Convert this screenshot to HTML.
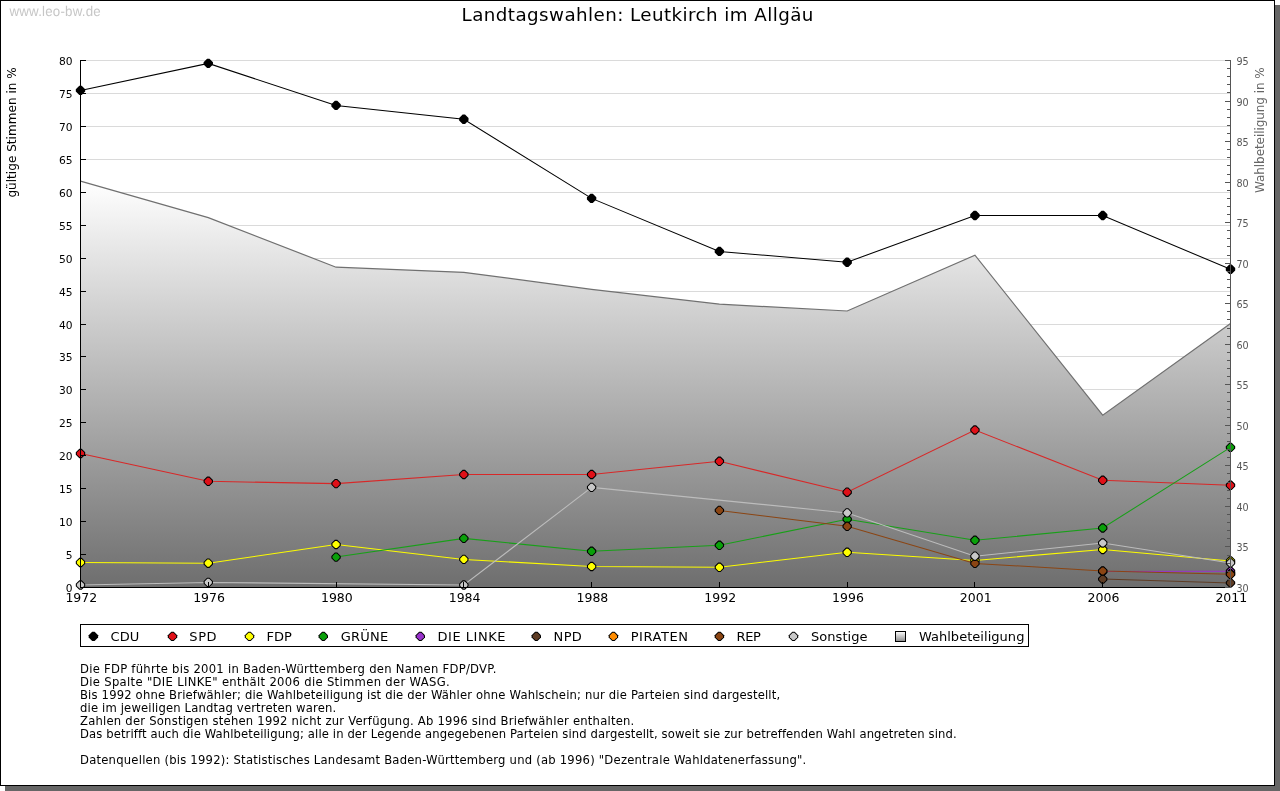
<!DOCTYPE html>
<html lang="de"><head><meta charset="utf-8"><title>Landtagswahlen: Leutkirch im Allgäu</title>
<style>html,body{margin:0;padding:0;background:#fff}svg{display:block}text{font-family:"DejaVu Sans","Liberation Sans",sans-serif;fill:#000}.wm{font-family:"Liberation Sans",sans-serif}</style></head><body>
<svg width="1280" height="791" viewBox="0 0 1280 791">
<defs><linearGradient id="ag" gradientUnits="userSpaceOnUse" x1="0" y1="181" x2="0" y2="587"><stop offset="0" stop-color="#ffffff"/><stop offset="1" stop-color="#6e6e6e"/></linearGradient>
<linearGradient id="lg" x1="0" y1="0" x2="0" y2="1"><stop offset="0" stop-color="#ffffff"/><stop offset="1" stop-color="#8a8a8a"/></linearGradient></defs>
<rect x="0" y="0" width="1280" height="791" fill="#fff"/>
<rect x="5" y="5" width="1275" height="786" fill="#666"/>
<rect x="0.5" y="0.5" width="1274" height="785" fill="#fff" stroke="#000" stroke-width="1"/>
<text class="wm" x="9.4" y="15.05" font-size="13.33" letter-spacing="0.2" transform="scale(1 1.05)" text-rendering="geometricPrecision" style="fill:#c6c6c6">www.leo-bw.de</text>
<text x="461.6" y="20.6" font-size="18.3" letter-spacing="0.421">Landtagswahlen: Leutkirch im Allgäu</text>
<path d="M86 587.5H1230M86 554.5H1230M86 521.5H1230M86 488.5H1230M86 455.5H1230M86 422.5H1230M86 389.5H1230M86 356.5H1230M86 324.5H1230M86 291.5H1230M86 258.5H1230M86 225.5H1230M86 192.5H1230M86 159.5H1230M86 126.5H1230M86 93.5H1230M86 60.5H1230" stroke="#dadada" stroke-width="1" fill="none"/>
<polygon points="80.5,587.5 80.5,181.2 208.28,217.6 336.06,267.2 463.83,272.3 591.61,289.4 719.39,304.2 847.17,311 974.94,255.2 1102.72,415.2 1230.5,323.4 1230.5,587.5" fill="url(#ag)"/>
<polyline points="80.5,181.2 208.28,217.6 336.06,267.2 463.83,272.3 591.61,289.4 719.39,304.2 847.17,311 974.94,255.2 1102.72,415.2 1230.5,323.4" fill="none" stroke="#707070" stroke-width="1.2"/>
<polyline points="80.5,90.4 208.28,63.4 336.06,105.4 463.83,119.3 591.61,198.4 719.39,251.4 847.17,262.2 974.94,215.5 1102.72,215.5 1230.5,269.3" fill="none" stroke="#000000" stroke-width="1.05"/>
<path d="M75.8 89.2L79.3 85.7H81.7L85.2 89.2V91.6L81.7 95.1H79.3L75.8 91.6ZM203.58 62.2L207.08 58.7H209.48L212.98 62.2V64.6L209.48 68.1H207.08L203.58 64.6ZM331.36 104.2L334.86 100.7H337.26L340.76 104.2V106.6L337.26 110.1H334.86L331.36 106.6ZM459.13 118.1L462.63 114.6H465.03L468.53 118.1V120.5L465.03 124H462.63L459.13 120.5ZM586.91 197.2L590.41 193.7H592.81L596.31 197.2V199.6L592.81 203.1H590.41L586.91 199.6ZM714.69 250.2L718.19 246.7H720.59L724.09 250.2V252.6L720.59 256.1H718.19L714.69 252.6ZM842.47 261L845.97 257.5H848.37L851.87 261V263.4L848.37 266.9H845.97L842.47 263.4ZM970.24 214.3L973.74 210.8H976.14L979.64 214.3V216.7L976.14 220.2H973.74L970.24 216.7ZM1098.02 214.3L1101.52 210.8H1103.92L1107.42 214.3V216.7L1103.92 220.2H1101.52L1098.02 216.7ZM1225.8 268.1L1229.3 264.6H1231.7L1235.2 268.1V270.5L1231.7 274H1229.3L1225.8 270.5Z" fill="#000"/>
<polyline points="80.5,453.5 208.28,481.3 336.06,483.6 463.83,474.5 591.61,474.5 719.39,461.3 847.17,492.2 974.94,430 1102.72,480.3 1230.5,485.3" fill="none" stroke="#d82828" stroke-width="1.05"/>
<path d="M75.8 452.3L79.3 448.8H81.7L85.2 452.3V454.7L81.7 458.2H79.3L75.8 454.7ZM203.58 480.1L207.08 476.6H209.48L212.98 480.1V482.5L209.48 486H207.08L203.58 482.5ZM331.36 482.4L334.86 478.9H337.26L340.76 482.4V484.8L337.26 488.3H334.86L331.36 484.8ZM459.13 473.3L462.63 469.8H465.03L468.53 473.3V475.7L465.03 479.2H462.63L459.13 475.7ZM586.91 473.3L590.41 469.8H592.81L596.31 473.3V475.7L592.81 479.2H590.41L586.91 475.7ZM714.69 460.1L718.19 456.6H720.59L724.09 460.1V462.5L720.59 466H718.19L714.69 462.5ZM842.47 491L845.97 487.5H848.37L851.87 491V493.4L848.37 496.9H845.97L842.47 493.4ZM970.24 428.8L973.74 425.3H976.14L979.64 428.8V431.2L976.14 434.7H973.74L970.24 431.2ZM1098.02 479.1L1101.52 475.6H1103.92L1107.42 479.1V481.5L1103.92 485H1101.52L1098.02 481.5ZM1225.8 484.1L1229.3 480.6H1231.7L1235.2 484.1V486.5L1231.7 490H1229.3L1225.8 486.5Z" fill="#000"/><path d="M76.9 452.6L79.6 449.9H81.4L84.1 452.6V454.4L81.4 457.1H79.6L76.9 454.4ZM204.68 480.4L207.38 477.7H209.18L211.88 480.4V482.2L209.18 484.9H207.38L204.68 482.2ZM332.46 482.7L335.16 480H336.96L339.66 482.7V484.5L336.96 487.2H335.16L332.46 484.5ZM460.23 473.6L462.93 470.9H464.73L467.43 473.6V475.4L464.73 478.1H462.93L460.23 475.4ZM588.01 473.6L590.71 470.9H592.51L595.21 473.6V475.4L592.51 478.1H590.71L588.01 475.4ZM715.79 460.4L718.49 457.7H720.29L722.99 460.4V462.2L720.29 464.9H718.49L715.79 462.2ZM843.57 491.3L846.27 488.6H848.07L850.77 491.3V493.1L848.07 495.8H846.27L843.57 493.1ZM971.34 429.1L974.04 426.4H975.84L978.54 429.1V430.9L975.84 433.6H974.04L971.34 430.9ZM1099.12 479.4L1101.82 476.7H1103.62L1106.32 479.4V481.2L1103.62 483.9H1101.82L1099.12 481.2ZM1226.9 484.4L1229.6 481.7H1231.4L1234.1 484.4V486.2L1231.4 488.9H1229.6L1226.9 486.2Z" fill="#e01018"/>
<polyline points="80.5,562.5 208.28,563.2 336.06,544.5 463.83,559.4 591.61,566.5 719.39,567.3 847.17,552.3 974.94,560.4 1102.72,549.5 1230.5,561" fill="none" stroke="#fcfc00" stroke-width="1.05"/>
<path d="M75.8 561.3L79.3 557.8H81.7L85.2 561.3V563.7L81.7 567.2H79.3L75.8 563.7ZM203.58 562L207.08 558.5H209.48L212.98 562V564.4L209.48 567.9H207.08L203.58 564.4ZM331.36 543.3L334.86 539.8H337.26L340.76 543.3V545.7L337.26 549.2H334.86L331.36 545.7ZM459.13 558.2L462.63 554.7H465.03L468.53 558.2V560.6L465.03 564.1H462.63L459.13 560.6ZM586.91 565.3L590.41 561.8H592.81L596.31 565.3V567.7L592.81 571.2H590.41L586.91 567.7ZM714.69 566.1L718.19 562.6H720.59L724.09 566.1V568.5L720.59 572H718.19L714.69 568.5ZM842.47 551.1L845.97 547.6H848.37L851.87 551.1V553.5L848.37 557H845.97L842.47 553.5ZM970.24 559.2L973.74 555.7H976.14L979.64 559.2V561.6L976.14 565.1H973.74L970.24 561.6ZM1098.02 548.3L1101.52 544.8H1103.92L1107.42 548.3V550.7L1103.92 554.2H1101.52L1098.02 550.7ZM1225.8 559.8L1229.3 556.3H1231.7L1235.2 559.8V562.2L1231.7 565.7H1229.3L1225.8 562.2Z" fill="#000"/><path d="M76.9 561.6L79.6 558.9H81.4L84.1 561.6V563.4L81.4 566.1H79.6L76.9 563.4ZM204.68 562.3L207.38 559.6H209.18L211.88 562.3V564.1L209.18 566.8H207.38L204.68 564.1ZM332.46 543.6L335.16 540.9H336.96L339.66 543.6V545.4L336.96 548.1H335.16L332.46 545.4ZM460.23 558.5L462.93 555.8H464.73L467.43 558.5V560.3L464.73 563H462.93L460.23 560.3ZM588.01 565.6L590.71 562.9H592.51L595.21 565.6V567.4L592.51 570.1H590.71L588.01 567.4ZM715.79 566.4L718.49 563.7H720.29L722.99 566.4V568.2L720.29 570.9H718.49L715.79 568.2ZM843.57 551.4L846.27 548.7H848.07L850.77 551.4V553.2L848.07 555.9H846.27L843.57 553.2ZM971.34 559.5L974.04 556.8H975.84L978.54 559.5V561.3L975.84 564H974.04L971.34 561.3ZM1099.12 548.6L1101.82 545.9H1103.62L1106.32 548.6V550.4L1103.62 553.1H1101.82L1099.12 550.4ZM1226.9 560.1L1229.6 557.4H1231.4L1234.1 560.1V561.9L1231.4 564.6H1229.6L1226.9 561.9Z" fill="#ffff00"/>
<polyline points="336.06,557.1 463.83,538.4 591.61,551.3 719.39,545.3 847.17,519.2 974.94,540.3 1102.72,528 1230.5,447.4" fill="none" stroke="#18a018" stroke-width="1.05"/>
<path d="M331.36 555.9L334.86 552.4H337.26L340.76 555.9V558.3L337.26 561.8H334.86L331.36 558.3ZM459.13 537.2L462.63 533.7H465.03L468.53 537.2V539.6L465.03 543.1H462.63L459.13 539.6ZM586.91 550.1L590.41 546.6H592.81L596.31 550.1V552.5L592.81 556H590.41L586.91 552.5ZM714.69 544.1L718.19 540.6H720.59L724.09 544.1V546.5L720.59 550H718.19L714.69 546.5ZM842.47 518L845.97 514.5H848.37L851.87 518V520.4L848.37 523.9H845.97L842.47 520.4ZM970.24 539.1L973.74 535.6H976.14L979.64 539.1V541.5L976.14 545H973.74L970.24 541.5ZM1098.02 526.8L1101.52 523.3H1103.92L1107.42 526.8V529.2L1103.92 532.7H1101.52L1098.02 529.2ZM1225.8 446.2L1229.3 442.7H1231.7L1235.2 446.2V448.6L1231.7 452.1H1229.3L1225.8 448.6Z" fill="#000"/><path d="M332.46 556.2L335.16 553.5H336.96L339.66 556.2V558L336.96 560.7H335.16L332.46 558ZM460.23 537.5L462.93 534.8H464.73L467.43 537.5V539.3L464.73 542H462.93L460.23 539.3ZM588.01 550.4L590.71 547.7H592.51L595.21 550.4V552.2L592.51 554.9H590.71L588.01 552.2ZM715.79 544.4L718.49 541.7H720.29L722.99 544.4V546.2L720.29 548.9H718.49L715.79 546.2ZM843.57 518.3L846.27 515.6H848.07L850.77 518.3V520.1L848.07 522.8H846.27L843.57 520.1ZM971.34 539.4L974.04 536.7H975.84L978.54 539.4V541.2L975.84 543.9H974.04L971.34 541.2ZM1099.12 527.1L1101.82 524.4H1103.62L1106.32 527.1V528.9L1103.62 531.6H1101.82L1099.12 528.9ZM1226.9 446.5L1229.6 443.8H1231.4L1234.1 446.5V448.3L1231.4 451H1229.6L1226.9 448.3Z" fill="#0aa00a"/>
<polyline points="1102.72,571.5 1230.5,571.3" fill="none" stroke="#9932cc" stroke-width="1.05"/>
<path d="M1098.02 570.3L1101.52 566.8H1103.92L1107.42 570.3V572.7L1103.92 576.2H1101.52L1098.02 572.7ZM1225.8 570.1L1229.3 566.6H1231.7L1235.2 570.1V572.5L1231.7 576H1229.3L1225.8 572.5Z" fill="#000"/><path d="M1099.12 570.6L1101.82 567.9H1103.62L1106.32 570.6V572.4L1103.62 575.1H1101.82L1099.12 572.4ZM1226.9 570.4L1229.6 567.7H1231.4L1234.1 570.4V572.2L1231.4 574.9H1229.6L1226.9 572.2Z" fill="#9932cc"/>
<polyline points="1102.72,579.1 1230.5,582.9" fill="none" stroke="#5e3c24" stroke-width="1.05"/>
<path d="M1098.02 577.9L1101.52 574.4H1103.92L1107.42 577.9V580.3L1103.92 583.8H1101.52L1098.02 580.3ZM1225.8 581.7L1229.3 578.2H1231.7L1235.2 581.7V584.1L1231.7 587.6H1229.3L1225.8 584.1Z" fill="#000"/><path d="M1099.12 578.2L1101.82 575.5H1103.62L1106.32 578.2V580L1103.62 582.7H1101.82L1099.12 580ZM1226.9 582L1229.6 579.3H1231.4L1234.1 582V583.8L1231.4 586.5H1229.6L1226.9 583.8Z" fill="#5e3c24"/>
<path d="M1225.8 572.5L1229.3 569H1231.7L1235.2 572.5V574.9L1231.7 578.4H1229.3L1225.8 574.9Z" fill="#000"/><path d="M1226.9 572.8L1229.6 570.1H1231.4L1234.1 572.8V574.6L1231.4 577.3H1229.6L1226.9 574.6Z" fill="#ff8c00"/>
<polyline points="719.39,510.4 847.17,526.3 974.94,563.4 1102.72,571 1230.5,574.3" fill="none" stroke="#8b4513" stroke-width="1.05"/>
<path d="M714.69 509.2L718.19 505.7H720.59L724.09 509.2V511.6L720.59 515.1H718.19L714.69 511.6ZM842.47 525.1L845.97 521.6H848.37L851.87 525.1V527.5L848.37 531H845.97L842.47 527.5ZM970.24 562.2L973.74 558.7H976.14L979.64 562.2V564.6L976.14 568.1H973.74L970.24 564.6ZM1098.02 569.8L1101.52 566.3H1103.92L1107.42 569.8V572.2L1103.92 575.7H1101.52L1098.02 572.2ZM1225.8 573.1L1229.3 569.6H1231.7L1235.2 573.1V575.5L1231.7 579H1229.3L1225.8 575.5Z" fill="#000"/><path d="M715.79 509.5L718.49 506.8H720.29L722.99 509.5V511.3L720.29 514H718.49L715.79 511.3ZM843.57 525.4L846.27 522.7H848.07L850.77 525.4V527.2L848.07 529.9H846.27L843.57 527.2ZM971.34 562.5L974.04 559.8H975.84L978.54 562.5V564.3L975.84 567H974.04L971.34 564.3ZM1099.12 570.1L1101.82 567.4H1103.62L1106.32 570.1V571.9L1103.62 574.6H1101.82L1099.12 571.9ZM1226.9 573.4L1229.6 570.7H1231.4L1234.1 573.4V575.2L1231.4 577.9H1229.6L1226.9 575.2Z" fill="#8b4513"/>
<polyline points="80.5,585 208.28,582.4 463.83,585 591.61,487.4 847.17,512.9 974.94,556.2 1102.72,543 1230.5,562.9" fill="none" stroke="#bcbcbc" stroke-width="1.05"/>
<path d="M75.8 583.8L79.3 580.3H81.7L85.2 583.8V586.2L81.7 589.7H79.3L75.8 586.2ZM203.58 581.2L207.08 577.7H209.48L212.98 581.2V583.6L209.48 587.1H207.08L203.58 583.6ZM459.13 583.8L462.63 580.3H465.03L468.53 583.8V586.2L465.03 589.7H462.63L459.13 586.2ZM586.91 486.2L590.41 482.7H592.81L596.31 486.2V488.6L592.81 492.1H590.41L586.91 488.6ZM842.47 511.7L845.97 508.2H848.37L851.87 511.7V514.1L848.37 517.6H845.97L842.47 514.1ZM970.24 555L973.74 551.5H976.14L979.64 555V557.4L976.14 560.9H973.74L970.24 557.4ZM1098.02 541.8L1101.52 538.3H1103.92L1107.42 541.8V544.2L1103.92 547.7H1101.52L1098.02 544.2ZM1225.8 561.7L1229.3 558.2H1231.7L1235.2 561.7V564.1L1231.7 567.6H1229.3L1225.8 564.1Z" fill="#000"/><path d="M76.9 584.1L79.6 581.4H81.4L84.1 584.1V585.9L81.4 588.6H79.6L76.9 585.9ZM204.68 581.5L207.38 578.8H209.18L211.88 581.5V583.3L209.18 586H207.38L204.68 583.3ZM460.23 584.1L462.93 581.4H464.73L467.43 584.1V585.9L464.73 588.6H462.93L460.23 585.9ZM588.01 486.5L590.71 483.8H592.51L595.21 486.5V488.3L592.51 491H590.71L588.01 488.3ZM843.57 512L846.27 509.3H848.07L850.77 512V513.8L848.07 516.5H846.27L843.57 513.8ZM971.34 555.3L974.04 552.6H975.84L978.54 555.3V557.1L975.84 559.8H974.04L971.34 557.1ZM1099.12 542.1L1101.82 539.4H1103.62L1106.32 542.1V543.9L1103.62 546.6H1101.82L1099.12 543.9ZM1226.9 562L1229.6 559.3H1231.4L1234.1 562V563.8L1231.4 566.5H1229.6L1226.9 563.8Z" fill="#c8c8c8"/>
<path d="M80.5 60V588M80 587.5H1231M80 587.5H86M80 554.5H86M80 521.5H86M80 488.5H86M80 455.5H86M80 422.5H86M80 389.5H86M80 356.5H86M80 324.5H86M80 291.5H86M80 258.5H86M80 225.5H86M80 192.5H86M80 159.5H86M80 126.5H86M80 93.5H86M80 60.5H86M208.5 582V587M336.5 582V587M463.5 582V587M591.5 582V587M719.5 582V587M847.5 582V587M974.5 582V587M1102.5 582V587" stroke="#000" stroke-width="1" fill="none"/>
<path d="M1230.5 60V588M1225 587.5H1231M1227 579.5H1231M1227 571.5H1231M1227 563.5H1231M1227 555.5H1231M1225 546.5H1231M1227 538.5H1231M1227 530.5H1231M1227 522.5H1231M1227 514.5H1231M1225 506.5H1231M1227 498.5H1231M1227 490.5H1231M1227 482.5H1231M1227 473.5H1231M1225 465.5H1231M1227 457.5H1231M1227 449.5H1231M1227 441.5H1231M1227 433.5H1231M1225 425.5H1231M1227 417.5H1231M1227 409.5H1231M1227 401.5H1231M1227 392.5H1231M1225 384.5H1231M1227 376.5H1231M1227 368.5H1231M1227 360.5H1231M1227 352.5H1231M1225 344.5H1231M1227 336.5H1231M1227 328.5H1231M1227 319.5H1231M1227 311.5H1231M1225 303.5H1231M1227 295.5H1231M1227 287.5H1231M1227 279.5H1231M1227 271.5H1231M1225 263.5H1231M1227 255.5H1231M1227 246.5H1231M1227 238.5H1231M1227 230.5H1231M1225 222.5H1231M1227 214.5H1231M1227 206.5H1231M1227 198.5H1231M1227 190.5H1231M1225 182.5H1231M1227 174.5H1231M1227 165.5H1231M1227 157.5H1231M1227 149.5H1231M1225 141.5H1231M1227 133.5H1231M1227 125.5H1231M1227 117.5H1231M1227 109.5H1231M1225 101.5H1231M1227 92.5H1231M1227 84.5H1231M1227 76.5H1231M1227 68.5H1231M1225 60.5H1231" stroke="#555" stroke-width="1" fill="none"/>
<text x="72.5" y="592.4" font-size="10.67" text-anchor="end">0</text>
<text x="72.5" y="559.4" font-size="10.67" text-anchor="end">5</text>
<text x="72.5" y="526.4" font-size="10.67" text-anchor="end">10</text>
<text x="72.5" y="493.4" font-size="10.67" text-anchor="end">15</text>
<text x="72.5" y="460.4" font-size="10.67" text-anchor="end">20</text>
<text x="72.5" y="427.4" font-size="10.67" text-anchor="end">25</text>
<text x="72.5" y="394.4" font-size="10.67" text-anchor="end">30</text>
<text x="72.5" y="361.4" font-size="10.67" text-anchor="end">35</text>
<text x="72.5" y="329.4" font-size="10.67" text-anchor="end">40</text>
<text x="72.5" y="296.4" font-size="10.67" text-anchor="end">45</text>
<text x="72.5" y="263.4" font-size="10.67" text-anchor="end">50</text>
<text x="72.5" y="230.4" font-size="10.67" text-anchor="end">55</text>
<text x="72.5" y="197.4" font-size="10.67" text-anchor="end">60</text>
<text x="72.5" y="164.4" font-size="10.67" text-anchor="end">65</text>
<text x="72.5" y="131.4" font-size="10.67" text-anchor="end">70</text>
<text x="72.5" y="98.4" font-size="10.67" text-anchor="end">75</text>
<text x="72.5" y="65.4" font-size="10.67" text-anchor="end">80</text>
<text x="1236.5" y="592" font-size="9.6" style="fill:#555">30</text>
<text x="1236.5" y="551" font-size="9.6" style="fill:#555">35</text>
<text x="1236.5" y="511" font-size="9.6" style="fill:#555">40</text>
<text x="1236.5" y="470" font-size="9.6" style="fill:#555">45</text>
<text x="1236.5" y="430" font-size="9.6" style="fill:#555">50</text>
<text x="1236.5" y="389" font-size="9.6" style="fill:#555">55</text>
<text x="1236.5" y="349" font-size="9.6" style="fill:#555">60</text>
<text x="1236.5" y="308" font-size="9.6" style="fill:#555">65</text>
<text x="1236.5" y="268" font-size="9.6" style="fill:#555">70</text>
<text x="1236.5" y="227" font-size="9.6" style="fill:#555">75</text>
<text x="1236.5" y="187" font-size="9.6" style="fill:#555">80</text>
<text x="1236.5" y="146" font-size="9.6" style="fill:#555">85</text>
<text x="1236.5" y="106" font-size="9.6" style="fill:#555">90</text>
<text x="1236.5" y="65" font-size="9.6" style="fill:#555">95</text>
<text x="81.3" y="602" font-size="12.5" text-anchor="middle">1972</text>
<text x="209.08" y="602" font-size="12.5" text-anchor="middle">1976</text>
<text x="336.86" y="602" font-size="12.5" text-anchor="middle">1980</text>
<text x="464.63" y="602" font-size="12.5" text-anchor="middle">1984</text>
<text x="592.41" y="602" font-size="12.5" text-anchor="middle">1988</text>
<text x="720.19" y="602" font-size="12.5" text-anchor="middle">1992</text>
<text x="847.97" y="602" font-size="12.5" text-anchor="middle">1996</text>
<text x="975.74" y="602" font-size="12.5" text-anchor="middle">2001</text>
<text x="1103.52" y="602" font-size="12.5" text-anchor="middle">2006</text>
<text x="1231.3" y="602" font-size="12.5" text-anchor="middle">2011</text>
<text x="-1.0" y="0" font-size="12" letter-spacing="0.047" transform="translate(15.8 196.6) rotate(-90)">gültige Stimmen in %</text>
<text x="0.0" y="0" font-size="12" letter-spacing="-0.068" transform="translate(1263.7 193) rotate(-90)" style="fill:#666">Wahlbeteiligung in %</text>
<rect x="80.5" y="624.5" width="948" height="22" fill="#fff" stroke="#000" stroke-width="1"/>
<path d="M88.7 635.2L92.2 631.7H94.6L98.1 635.2V637.6L94.6 641.1H92.2L88.7 637.6Z" fill="#000"/>
<text x="110.4" y="641" font-size="13" letter-spacing="0.175">CDU</text>
<path d="M167.8 635.2L171.3 631.7H173.7L177.2 635.2V637.6L173.7 641.1H171.3L167.8 637.6Z" fill="#000"/><path d="M168.9 635.5L171.6 632.8H173.4L176.1 635.5V637.3L173.4 640H171.6L168.9 637.3Z" fill="#e01018"/>
<text x="189.3" y="641" font-size="13" letter-spacing="0.6">SPD</text>
<path d="M244.8 635.2L248.3 631.7H250.7L254.2 635.2V637.6L250.7 641.1H248.3L244.8 637.6Z" fill="#000"/><path d="M245.9 635.5L248.6 632.8H250.4L253.1 635.5V637.3L250.4 640H248.6L245.9 637.3Z" fill="#ffff00"/>
<text x="266.5" y="641" font-size="13" letter-spacing="-0.05">FDP</text>
<path d="M318.6 635.2L322.1 631.7H324.5L328 635.2V637.6L324.5 641.1H322.1L318.6 637.6Z" fill="#000"/><path d="M319.7 635.5L322.4 632.8H324.2L326.9 635.5V637.3L324.2 640H322.4L319.7 637.3Z" fill="#0aa00a"/>
<text x="340.8" y="641" font-size="13" letter-spacing="0.225">GRÜNE</text>
<path d="M415.6 635.2L419.1 631.7H421.5L425 635.2V637.6L421.5 641.1H419.1L415.6 637.6Z" fill="#000"/><path d="M416.7 635.5L419.4 632.8H421.2L423.9 635.5V637.3L421.2 640H419.4L416.7 637.3Z" fill="#9932cc"/>
<text x="437.6" y="641" font-size="13" letter-spacing="0.512">DIE LINKE</text>
<path d="M531.6 635.2L535.1 631.7H537.5L541 635.2V637.6L537.5 641.1H535.1L531.6 637.6Z" fill="#000"/><path d="M532.7 635.5L535.4 632.8H537.2L539.9 635.5V637.3L537.2 640H535.4L532.7 637.3Z" fill="#5e3c24"/>
<text x="553.6" y="641" font-size="13" letter-spacing="0.35">NPD</text>
<path d="M608.7 635.2L612.2 631.7H614.6L618.1 635.2V637.6L614.6 641.1H612.2L608.7 637.6Z" fill="#000"/><path d="M609.8 635.5L612.5 632.8H614.3L617 635.5V637.3L614.3 640H612.5L609.8 637.3Z" fill="#ff8c00"/>
<text x="630.7" y="641" font-size="13" letter-spacing="0.55">PIRATEN</text>
<path d="M714.7 635.2L718.2 631.7H720.6L724.1 635.2V637.6L720.6 641.1H718.2L714.7 637.6Z" fill="#000"/><path d="M715.8 635.5L718.5 632.8H720.3L723 635.5V637.3L720.3 640H718.5L715.8 637.3Z" fill="#8b4513"/>
<text x="736.6" y="641" font-size="13" letter-spacing="-0.4">REP</text>
<path d="M788.8 635.2L792.3 631.7H794.7L798.2 635.2V637.6L794.7 641.1H792.3L788.8 637.6Z" fill="#000"/><path d="M789.9 635.5L792.6 632.8H794.4L797.1 635.5V637.3L794.4 640H792.6L789.9 637.3Z" fill="#c8c8c8"/>
<text x="811.0" y="641" font-size="13" letter-spacing="0.043">Sonstige</text>
<rect x="895.5" y="631.5" width="10" height="10" fill="url(#lg)" stroke="#000" stroke-width="1"/>
<text x="918.9" y="641" font-size="13" letter-spacing="0.036">Wahlbeteiligung</text>
<text x="80.0" y="672.6" font-size="11.6" letter-spacing="0.263">Die FDP führte bis 2001 in Baden-Württemberg den Namen FDP/DVP.</text>
<text x="80.0" y="685.6" font-size="11.6" letter-spacing="0.32">Die Spalte &quot;DIE LINKE&quot; enthält 2006 die Stimmen der WASG.</text>
<text x="80.0" y="698.6" font-size="11.6" letter-spacing="0.17">Bis 1992 ohne Briefwähler; die Wahlbeteiligung ist die der Wähler ohne Wahlschein; nur die Parteien sind dargestellt,</text>
<text x="80.0" y="711.6" font-size="11.6" letter-spacing="0.159">die im jeweiligen Landtag vertreten waren.</text>
<text x="80.0" y="724.6" font-size="11.6" letter-spacing="0.222">Zahlen der Sonstigen stehen 1992 nicht zur Verfügung. Ab 1996 sind Briefwähler enthalten.</text>
<text x="80.0" y="737.7" font-size="11.6" letter-spacing="0.113">Das betrifft auch die Wahlbeteiligung; alle in der Legende angegebenen Parteien sind dargestellt, soweit sie zur betreffenden Wahl angetreten sind.</text>
<text x="80.0" y="763.7" font-size="11.6" letter-spacing="0.223">Datenquellen (bis 1992): Statistisches Landesamt Baden-Württemberg und (ab 1996) &quot;Dezentrale Wahldatenerfassung&quot;.</text>
</svg></body></html>
